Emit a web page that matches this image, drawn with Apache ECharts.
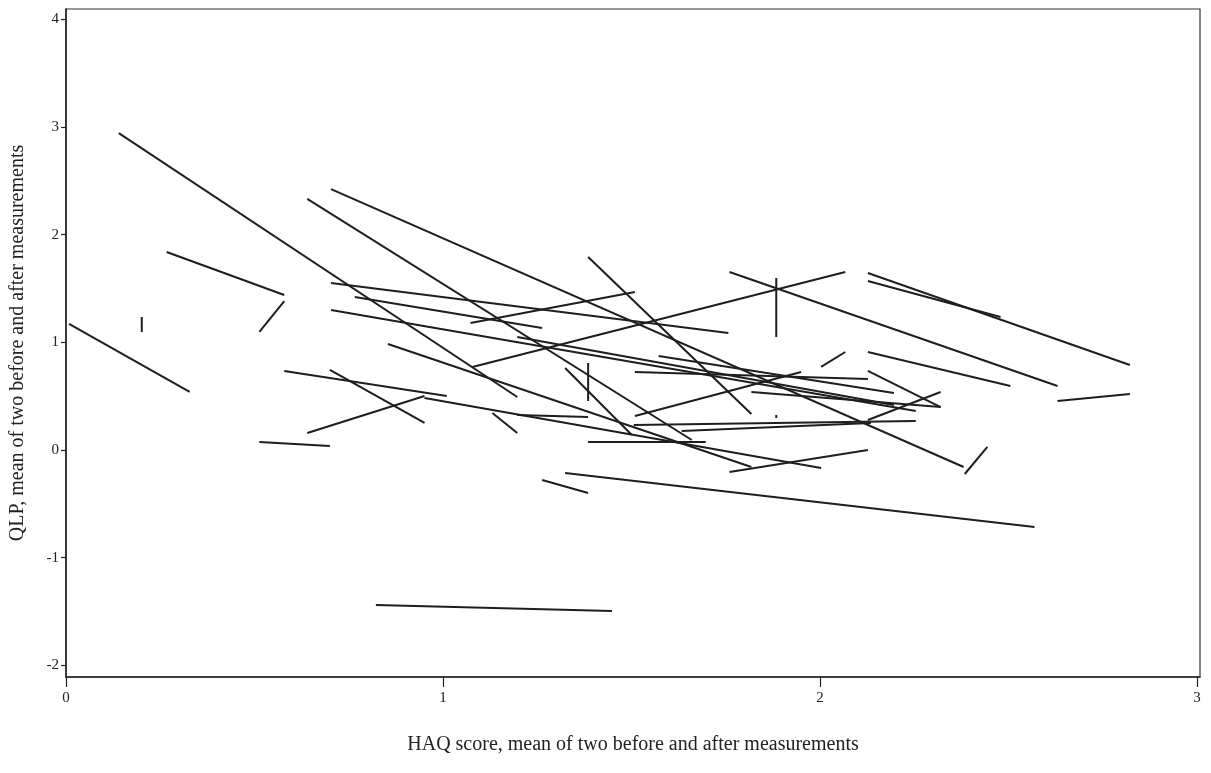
<!DOCTYPE html>
<html>
<head>
<meta charset="utf-8">
<script src="https://cdn.jsdelivr.net/npm/echarts@6/dist/echarts.min.js"></script>
<style>html,body{margin:0;padding:0;background:#fff}#c{width:1211px;height:773px}</style>
</head>
<body>
<div id="c"></div>
<script>
// Each segment: from (haqA, qlpA) to (haqB, qlpB)
const haqA = [0.140,0.267,0.513,0.201,0.008,0.513,0.579,0.700,0.640,0.951,1.131,1.197,1.385,1.506,1.633,1.385,1.760,2.127,2.127,2.127,2.630,1.884,1.078,1.073,0.703,0.766,0.703,0.703,0.640,0.854,1.197,1.572,1.509,1.509,1.818,2.127,2.127,1.263,1.324,0.822,2.384,1.760,1.324,1.385,1.884,2.003];
const qlpA = [2.943,1.838,1.096,1.235,1.170,0.074,0.734,0.743,0.158,0.483,0.344,0.325,0.074,0.232,0.176,1.792,1.653,1.643,1.569,0.910,0.455,1.597,0.771,1.179,1.551,1.421,1.300,2.423,2.331,0.984,1.049,0.873,0.724,0.316,0.539,0.734,0.279,-0.279,-0.214,-1.439,-0.223,-0.204,0.761,0.808,0.325,0.771];
const haqB = [1.197,0.579,0.579,0.201,0.328,0.700,1.010,0.951,0.951,2.003,1.197,1.385,1.697,2.254,2.135,1.818,2.630,2.822,2.479,2.505,2.822,1.884,2.067,1.509,1.757,1.263,2.254,2.381,1.660,1.818,2.196,2.196,2.127,1.950,2.320,2.320,2.320,1.385,2.569,1.448,2.444,2.127,1.501,1.385,1.884,2.067];
const qlpB = [0.492,1.439,1.383,1.096,0.539,0.037,0.501,0.251,0.501,-0.167,0.158,0.306,0.074,0.269,0.251,0.334,0.594,0.789,1.235,0.594,0.520,1.049,1.653,1.467,1.086,1.133,0.362,-0.158,0.093,-0.158,0.418,0.529,0.659,0.724,0.399,0.399,0.539,-0.399,-0.715,-1.495,0.028,0.000,0.139,0.455,0.297,0.910];

const xTicks = [0, 1, 2, 3];
const yTicks = [-2, -1, 0, 1, 2, 3, 4];

const series = haqA.map((_, i) => ({
  type: 'line',
  data: [[haqA[i], qlpA[i]], [haqB[i], qlpB[i]]],
  symbol: 'none',
  lineStyle: { color: '#1e1e1e', width: 2 },
  silent: true,
  animation: false
}));

const chart = echarts.init(document.getElementById('c'));
const serif = '"Liberation Serif", "DejaVu Serif", serif';
chart.setOption({
  backgroundColor: '#fff',
  animation: false,
  grid: { left: 63, right: 11, top: 9, bottom: 96, show: true, borderColor: '#333', borderWidth: 1.2, backgroundColor: 'transparent' },
  xAxis: {
    type: 'value', min: 0, max: 3.008,
    name: 'HAQ score, mean of two before and after measurements',
    nameLocation: 'middle', nameGap: 58,
    nameTextStyle: { fontFamily: serif, fontSize: 20, color: '#222' },
    axisLine: { show: true, onZero: false, lineStyle: { color: '#222', width: 1.5 } },
    axisTick: { show: true, length: 10, customValues: xTicks, lineStyle: { color: '#222', width: 1.2 } },
    axisLabel: { customValues: xTicks, margin: 14, fontFamily: serif, fontSize: 15, color: '#222' },
    splitLine: { show: false }
  },
  yAxis: {
    type: 'value', min: -2.108, max: 4.095,
    name: 'QLP, mean of two before and after measurements',
    nameLocation: 'middle', nameGap: 38,
    nameTextStyle: { fontFamily: serif, fontSize: 20, color: '#222' },
    axisLine: { show: true, onZero: false, lineStyle: { color: '#222', width: 1.5 } },
    axisTick: { show: true, length: 5, customValues: yTicks, lineStyle: { color: '#222', width: 1.2 } },
    axisLabel: { customValues: yTicks, margin: 7, fontFamily: serif, fontSize: 15, color: '#222' },
    splitLine: { show: false }
  },
  series: series
});
</script>
</body>
</html>
